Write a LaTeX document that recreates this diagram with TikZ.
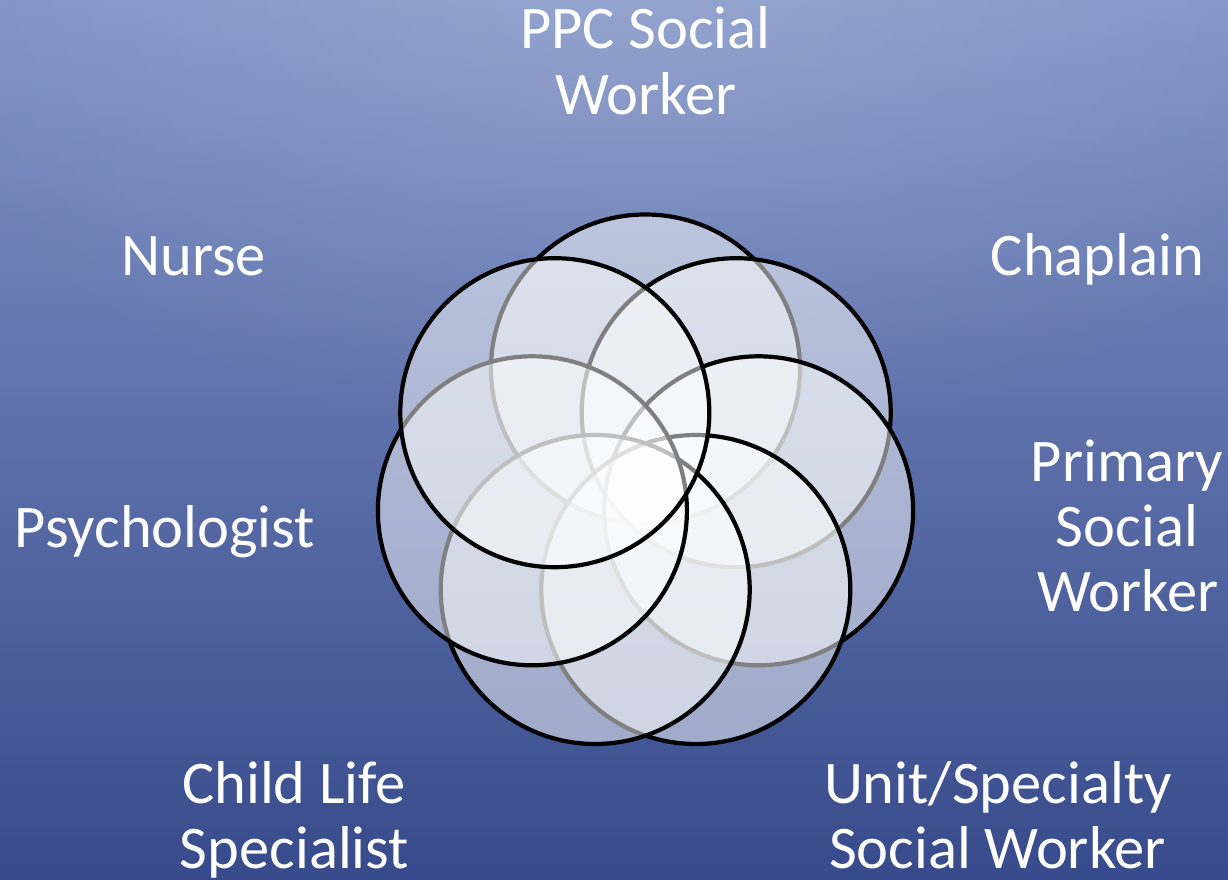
\documentclass[tikz,border=0pt]{standalone}
\usepackage{fontspec}
\setmainfont{Carlito}
\usetikzlibrary{fadings}
\tikzfading[name=topglow, inner color=transparent!0, outer color=transparent!100]
\definecolor{bgtop}{HTML}{8093C6}
\definecolor{bgbot}{HTML}{374B8C}
\begin{document}
\begin{tikzpicture}[x=1pt,y=-1pt,
  venn/.style={circle, draw=black, line width=4.2pt, fill=white, fill opacity=0.5, draw opacity=1, minimum size=309pt, inner sep=0pt},
  lbl/.style={text=white, inner sep=0pt, anchor=base, font=\fontsize{60.5}{65}\selectfont}]
\useasboundingbox (0,0) rectangle (1228,880);
\begin{scope}
\clip (0,0) rectangle (1228,880);
\shade[top color=bgtop, bottom color=bgbot] (0,0) rectangle (1228,880);
\fill[white, fill opacity=0.18, path fading=topglow] (645,-60) ellipse [x radius=800, y radius=520];
\end{scope}
% circles, drawn clockwise from the top, each above the previous
\node[venn] (cppc)   at (645.5,369.0) {};
\node[venn] (cchap)  at (736.2,412.7) {};
\node[venn] (cprim)  at (758.6,510.8) {};
\node[venn] (cunit)  at (695.8,589.5) {};
\node[venn] (cchild) at (595.2,589.5) {};
\node[venn] (cpsy)   at (532.4,510.8) {};
\node[venn] (cnurse) at (554.8,412.7) {};
% labels
\node[lbl] (ppc1) at (645.5,49) {PPC Social};
\node[lbl] (ppc2) at (646,114) {Worker};
\node[lbl] (nurse) at (193.5,275) {Nurse};
\node[lbl] (chap) at (1097.5,275) {Chaplain};
\node[lbl] (prim1) at (1127,481) {Primary};
\node[lbl] (prim2) at (1127,546) {Social};
\node[lbl] (prim3) at (1128,611) {Worker};
\node[lbl] (psy) at (165,547) {Psychologist};
\node[lbl] (child1) at (294,803) {Child Life};
\node[lbl] (child2) at (294.5,868) {Specialist};
\node[lbl] (unit1) at (998,803) {Unit/Specialty};
\node[lbl] (unit2) at (997.5,868) {Social Worker};
\end{tikzpicture}
\end{document}
